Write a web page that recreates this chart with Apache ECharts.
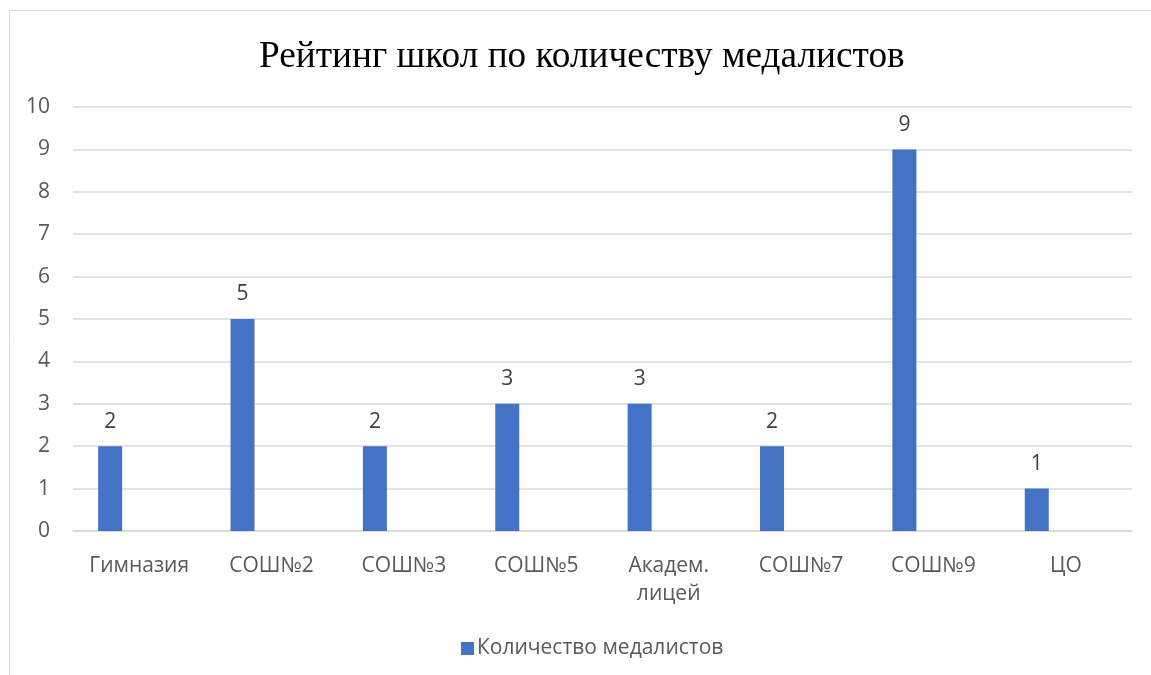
<!DOCTYPE html>
<html>
<head>
<meta charset="utf-8">
<script src="https://cdn.jsdelivr.net/npm/echarts@6/dist/echarts.min.js"></script>
<style>
  html, body { margin: 0; padding: 0; background: #fff; }
  #main { width: 1151px; height: 675px; }
</style>
</head>
<body>
<div id="main"></div>
<script>
const schools = ['Гимназия', 'СОШ№2', 'СОШ№3', 'СОШ№5', 'Академ.\nлицей', 'СОШ№7', 'СОШ№9', 'ЦО'];
const medalists = [2, 5, 2, 3, 3, 2, 9, 1];
const seriesName = 'Количество медалистов';

const myChart = echarts.init(document.getElementById('main'));

const labelFont = 'Open Sans, Noto Sans, sans-serif';

const option = {
  animation: false,
  title: {
    text: 'Рейтинг школ по количеству медалистов',
    left: 254,
    top: 34,
    textStyle: {
      fontFamily: 'Liberation Serif',
      fontSize: 37.3,
      fontWeight: 'normal',
      color: '#000'
    }
  },
  graphic: [{
    type: 'rect',
    shape: { x: 9.5, y: 10.5, width: 1160, height: 700 },
    style: { fill: 'none', stroke: '#d9d9d9', lineWidth: 1 },
    silent: true
  }],
  legend: {
    data: [seriesName],
    left: 456,
    top: 633,
    itemWidth: 13,
    itemHeight: 13,
    itemGap: 6,
    icon: 'rect',
    textStyle: { fontFamily: labelFont, fontSize: 21, color: '#595959', padding: [0, 0, 0, -2] }
  },
  grid: { left: 73, right: 19, top: 107, bottom: 144 },
  xAxis: {
    type: 'category',
    data: schools,
    axisLine: { show: true, lineStyle: { color: '#d9d9d9', width: 1.5 } },
    axisTick: { show: false },
    axisLabel: {
      interval: 0,
      margin: 21,
      fontFamily: labelFont,
      fontSize: 21,
      lineHeight: 28,
      color: '#595959'
    }
  },
  yAxis: {
    type: 'value',
    min: 0,
    max: 10,
    interval: 1,
    axisLine: { show: false },
    axisTick: { show: false },
    splitLine: { lineStyle: { color: '#d9d9d9', width: 1.5 } },
    axisLabel: {
      margin: 23,
      fontFamily: labelFont,
      fontSize: 21,
      color: '#595959'
    }
  },
  series: [
    {
      name: seriesName,
      type: 'bar',
      data: medalists,
      barWidth: 24,
      barGap: '142%',
      itemStyle: { color: '#4472c4' },
      label: {
        show: true,
        position: 'top',
        distance: 14,
        fontFamily: labelFont,
        fontSize: 21,
        color: '#404040'
      }
    },
    {
      name: 'пусто',
      type: 'bar',
      data: schools.map(() => null),
      barWidth: 24,
      silent: true
    }
  ]
};

myChart.setOption(option);
</script>
</body>
</html>
